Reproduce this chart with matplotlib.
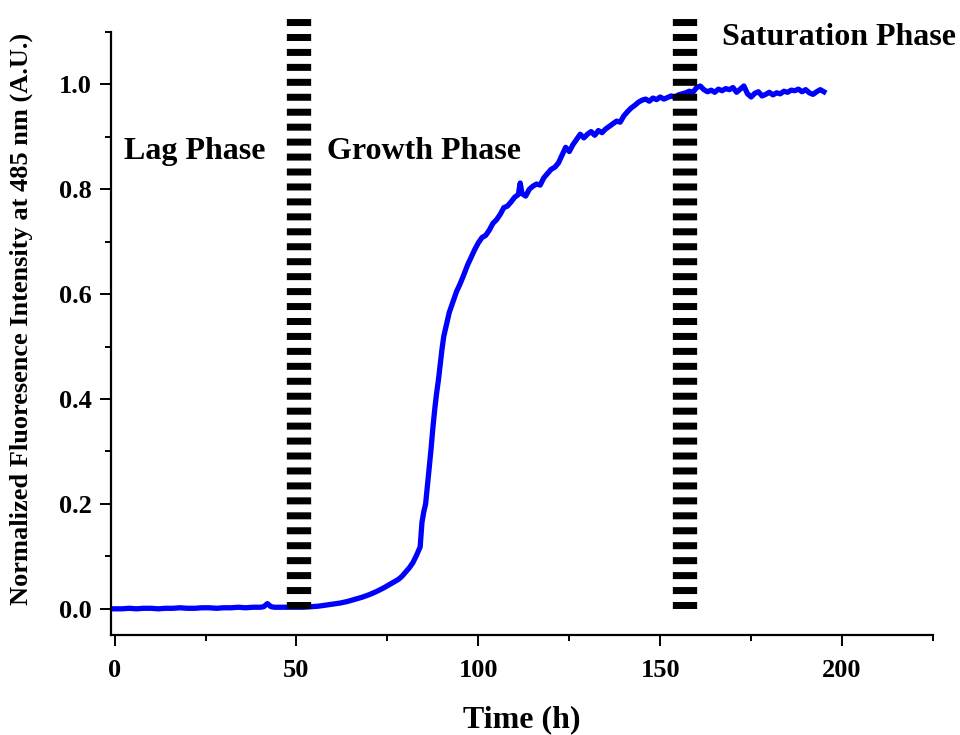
import matplotlib
matplotlib.use("Agg")
import matplotlib.pyplot as plt
from matplotlib.ticker import MultipleLocator

# ---- data ----
time_h = [0, 2, 4, 6, 8, 10, 12, 14, 16, 18, 20, 22, 24, 26, 28, 30, 32, 34, 36, 38,
          40, 41, 42, 43, 44, 46, 48, 50, 52, 54, 56, 58, 60, 62, 64, 66, 68, 70, 72,
          74, 76, 78, 79, 80, 81, 82, 83, 84, 84.5, 85, 85.5, 86, 86.5, 87, 87.5, 88,
          88.5, 89, 89.5, 90, 90.5, 91, 92, 93, 94, 95, 96, 97, 98, 99, 100, 101, 102,
          103, 104, 105, 106, 107, 108, 109, 110, 111, 111.5, 112, 113, 114, 115, 116,
          117, 118, 119, 120, 121, 122, 123, 124, 125, 126, 127, 128, 129, 130, 131,
          132, 133, 134, 135, 136, 137, 138, 139, 140, 141, 142, 143, 144, 145, 146,
          147, 148, 149, 150, 151, 152, 153, 154, 155, 156, 157, 158, 159, 160, 161,
          162, 163, 164, 165, 166, 167, 168, 169, 170, 171, 172, 173, 174, 175, 176,
          177, 178, 179, 180, 181, 182, 183, 184, 185, 186, 187, 188, 189, 190, 191,
          192, 193, 194, 195]
intensity = [0.000, 0.000, 0.001, 0.000, 0.001, 0.001, 0.000, 0.001, 0.001, 0.002,
             0.001, 0.001, 0.002, 0.002, 0.001, 0.002, 0.002, 0.003, 0.002, 0.003,
             0.003, 0.004, 0.010, 0.004, 0.003, 0.003, 0.003, 0.003, 0.003, 0.004,
             0.005, 0.007, 0.009, 0.011, 0.014, 0.018, 0.022, 0.027, 0.033, 0.040,
             0.048, 0.056, 0.062, 0.070, 0.078, 0.088, 0.102, 0.118, 0.165, 0.185,
             0.200, 0.235, 0.270, 0.305, 0.345, 0.380, 0.410, 0.435, 0.465, 0.495,
             0.520, 0.535, 0.565, 0.585, 0.605, 0.620, 0.637, 0.655, 0.670, 0.685,
             0.698, 0.708, 0.712, 0.722, 0.735, 0.742, 0.752, 0.765, 0.768, 0.776,
             0.785, 0.790, 0.812, 0.792, 0.787, 0.800, 0.806, 0.810, 0.808, 0.822,
             0.830, 0.838, 0.842, 0.850, 0.865, 0.880, 0.872, 0.885, 0.895, 0.905,
             0.898, 0.905, 0.910, 0.903, 0.912, 0.908, 0.915, 0.920, 0.925, 0.930,
             0.928, 0.940, 0.948, 0.955, 0.960, 0.966, 0.970, 0.972, 0.968, 0.974,
             0.971, 0.976, 0.972, 0.975, 0.978, 0.975, 0.980, 0.982, 0.984, 0.987,
             0.985, 0.994, 0.997, 0.990, 0.986, 0.989, 0.985, 0.991, 0.988, 0.992,
             0.990, 0.994, 0.985, 0.991, 0.997, 0.982, 0.976, 0.983, 0.986, 0.978,
             0.981, 0.985, 0.980, 0.984, 0.982, 0.987, 0.985, 0.989, 0.988, 0.991,
             0.986, 0.990, 0.984, 0.981, 0.986, 0.990, 0.986]

phase_boundaries = [50.7, 156.7]
phase_labels = ["Lag Phase", "Growth Phase", "Saturation Phase"]
x_ticks = [0, 50, 100, 150, 200]
y_ticks = [0.0, 0.2, 0.4, 0.6, 0.8, 1.0]

plt.rcParams['font.family'] = ['Liberation Serif', 'DejaVu Serif']
plt.rcParams['font.weight'] = 'bold'

fig = plt.figure(figsize=(9.6, 7.35), dpi=100)
ax = fig.add_axes([0.1156, 0.136, 0.8563, 0.8205])

ax.plot(time_h, intensity, color='#0000ff', lw=3.8, solid_joinstyle='round', zorder=3)

for xb in phase_boundaries:
    ax.plot([xb, xb], [0.0, 1.125], color='black', lw=17.5,
            linestyle=(0, (0.288, 0.327)), dash_capstyle='butt',
            clip_on=False, zorder=4)

ax.text(2.7, 0.857, phase_labels[0], fontsize=23, fontweight='bold', va='baseline')
ax.text(58.5, 0.857, phase_labels[1], fontsize=23, fontweight='bold', va='baseline')
ax.text(167, 1.076, phase_labels[2], fontsize=23, fontweight='bold', va='baseline',
        clip_on=False)

ax.set_xlim(-1, 225)
ax.set_ylim(-0.05, 1.1)
ax.set_xticks(x_ticks)
ax.set_yticks(y_ticks)
ax.set_yticklabels([f"{v:.1f}" for v in y_ticks])
ax.xaxis.set_minor_locator(MultipleLocator(25))
ax.yaxis.set_minor_locator(MultipleLocator(0.1))

for s in ['top', 'right']:
    ax.spines[s].set_visible(False)
for s in ['left', 'bottom']:
    ax.spines[s].set_linewidth(1.6)

ax.tick_params(which='major', direction='out', length=8, width=1.4,
               labelsize=19, pad=6)
ax.tick_params(axis='x', which='major', pad=9)
ax.tick_params(which='minor', direction='out', length=4, width=1.4)
for lab in ax.get_xticklabels() + ax.get_yticklabels():
    lab.set_fontweight('bold')

ax.set_xlabel("Time (h)", fontsize=23, fontweight='bold', labelpad=17)
ax.set_ylabel("Normalized Fluoresence Intensity at 485 nm (A.U.)", fontsize=19,
              fontweight='bold')
ax.yaxis.set_label_coords(-0.095, 0.524)

fig.savefig("out.png", dpi=100)
